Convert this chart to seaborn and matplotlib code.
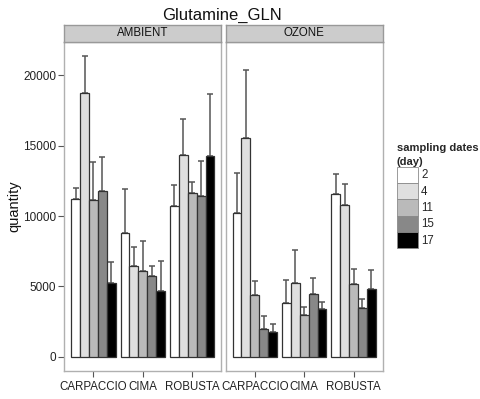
import matplotlib
matplotlib.use("Agg")
import matplotlib.pyplot as plt
from matplotlib.patches import Patch, Rectangle
import seaborn as sns
import pandas as pd
import numpy as np

sns.set_style("white")
plt.rcParams['font.family'] = ['Liberation Sans', 'DejaVu Sans']

treatments = ["AMBIENT", "OZONE"]
cultivars = ["CARPACCIO", "CIMA", "ROBUSTA"]
days = ["2", "4", "11", "15", "17"]
day_colors = ["#FFFFFF", "#DFDFDF", "#BABABA", "#888888", "#000000"]

# means [cultivar][day]
ambient_mean = [
    [11210, 18750, 11140, 11800, 5220],
    [8800, 6430, 6070, 5760, 4690],
    [10690, 14360, 11640, 11400, 14290],
]
ambient_upper = [
    [12020, 21360, 13820, 14220, 6760],
    [11920, 7780, 8250, 6470, 6800],
    [12210, 16880, 12400, 13890, 18700],
]
ozone_mean = [
    [10200, 15570, 4410, 1990, 1780],
    [3820, 5260, 2970, 4480, 3390],
    [11590, 10790, 5170, 3440, 4790],
]
ozone_upper = [
    [13040, 20360, 5400, 2890, 2330],
    [5430, 7590, 3530, 5600, 3890],
    [12970, 12300, 6240, 4130, 6170],
]

rows = []
for trt, means, uppers in [("AMBIENT", ambient_mean, ambient_upper),
                           ("OZONE", ozone_mean, ozone_upper)]:
    for ci, cv in enumerate(cultivars):
        for di, d in enumerate(days):
            rows.append(dict(treatment=trt, cultivar=cv, day=d,
                             quantity=means[ci][di], upper=uppers[ci][di]))
df = pd.DataFrame(rows)

W, H = 481, 399
fig = plt.figure(figsize=(W / 100, H / 100), dpi=100)

panel_left = [64.3, 225.7]
panel_w = 157.0
panel_top, panel_bot = 42.0, 371.0
strip_h = 17.0

ylim = (-1017, 22380)
border = "#B0B0B0"

axes = []
for i, trt in enumerate(treatments):
    ax = fig.add_axes([panel_left[i] / W, (H - panel_bot) / H,
                       panel_w / W, (panel_bot - panel_top) / H])
    sub = df[df.treatment == trt]
    sns.barplot(data=sub, x="cultivar", y="quantity", hue="day",
                order=cultivars, hue_order=days, palette=day_colors,
                errorbar=None, width=0.9, legend=False, ax=ax,
                edgecolor="#333333", linewidth=0.9, saturation=1)
    bar_containers = list(ax.containers)
    # upper-only error bars from the bar geometry
    for hi, cont in enumerate(bar_containers):
        d = days[hi]
        for ci, bar in enumerate(cont):
            cv = cultivars[ci]
            r = sub[(sub.cultivar == cv) & (sub.day == d)].iloc[0]
            xc = bar.get_x() + bar.get_width() / 2
            ax.errorbar([xc], [r.quantity],
                        yerr=[[0], [r.upper - r.quantity]],
                        fmt="none", ecolor="#555555", elinewidth=1.1,
                        capsize=2.5, capthick=1.1, zorder=0.5)
    ax.set_ylim(*ylim)
    ax.set_xlim(-0.59, 2.59)
    ax.set_xlabel("")
    ax.set_ylabel("")
    for s in ax.spines.values():
        s.set_color(border)
        s.set_linewidth(1.0)
    ax.tick_params(axis="x", length=4, color="#555555", width=0.8,
                   labelsize=8.3, labelcolor="#222222", pad=3, bottom=True)
    if i == 0:
        ax.set_yticks([0, 5000, 10000, 15000, 20000])
        ax.tick_params(axis="y", length=4, color="#555555", width=0.8,
                       labelsize=8.5, labelcolor="#222222", pad=2, left=True)
        ax.set_ylabel("quantity", fontsize=10.5, color="#111111", labelpad=1)
    else:
        ax.set_yticks([0, 5000, 10000, 15000, 20000])
        ax.tick_params(axis="y", left=False, labelleft=False)
    # strip
    sax = fig.add_axes([panel_left[i] / W, (H - panel_top) / H,
                        panel_w / W, strip_h / H])
    sax.set_facecolor("#CCCCCC")
    sax.set_xticks([])
    sax.set_yticks([])
    for s in sax.spines.values():
        s.set_color("#999999")
        s.set_linewidth(1.0)
    sax.text(0.5, 0.5, trt, ha="center", va="center", fontsize=8.3,
             color="#111111", transform=sax.transAxes)
    axes.append(ax)

fig.text(222 / W, 1 - 15 / H, "Glutamine_GLN", ha="center", va="center",
         fontsize=12, color="#111111")

handles = [Patch(facecolor=c, edgecolor="#8A8A8A", linewidth=0.6, label=d)
           for c, d in zip(day_colors, days)]
leg = fig.legend(handles=handles, loc="upper left",
                 bbox_to_anchor=(397 / W, 1 - 143 / H),
                 frameon=False, fontsize=8.3, title="sampling dates\n(day)",
                 title_fontproperties={"weight": "bold", "size": 8},
                 alignment="left", handlelength=1.8, handleheight=1.8,
                 labelspacing=0.0, handletextpad=0.3, borderpad=0,
                 borderaxespad=0)
leg.get_title().set_linespacing(1.45)

fig.savefig("out.png", dpi=100, facecolor="white")
